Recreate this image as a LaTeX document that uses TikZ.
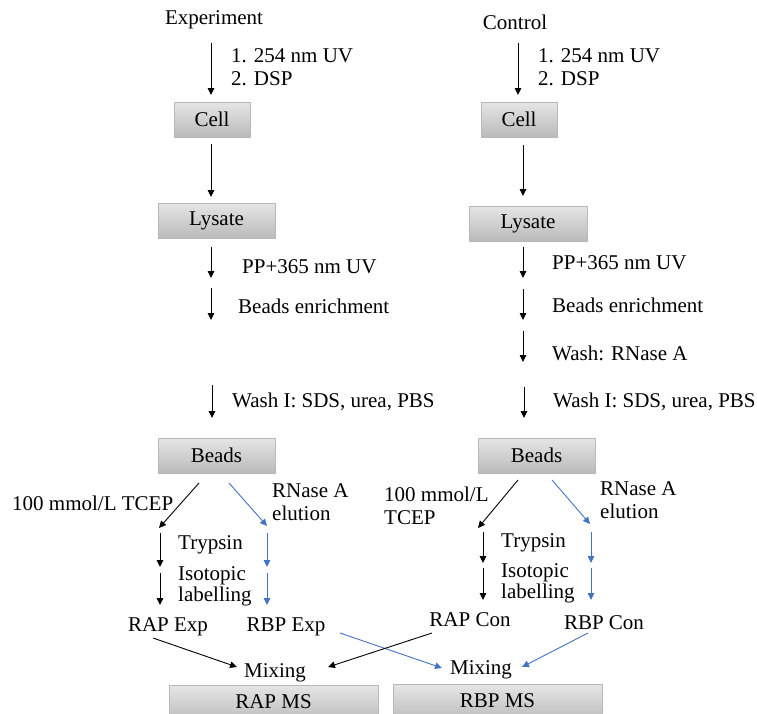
\documentclass[tikz,border=0pt]{standalone}
\usepackage{fontspec}
\setmainfont{Liberation Serif}
\usetikzlibrary{arrows.meta}
\definecolor{blueline}{HTML}{4472C4}
\tikzset{
  box/.style={draw=black!28, top color=black!10, bottom color=black!27, minimum height=35pt, inner sep=0pt},
  lbl/.style={inner sep=0pt, anchor=west, align=left},
  txt/.style={inner sep=0pt},
  arr/.style={-{Triangle[length=7pt,width=6.5pt]}, line width=0.9pt},
  barr/.style={arr, draw=blueline, color=blueline}
}
\begin{document}
\begin{tikzpicture}[x=1pt,y=-1pt,font=\fontsize{21}{23}\selectfont]
\useasboundingbox (0,0) rectangle (757,713);
% ---------- boxes ----------
\node[box, minimum width=76pt]  (cellE) at (212,119.5) {Cell};
\node[box, minimum width=117pt] (lysE)  at (216.5,220.5) {Lysate};
\node[box, minimum width=117pt] (beadE) at (216.5,455.5) {Beads};
\node[box, minimum width=209pt, minimum height=38pt, text depth=4pt] (msE) at (273.5,704) {RAP MS};
\node[box, minimum width=76pt]  (cellC) at (519,119.5) {Cell};
\node[box, minimum width=118pt] (lysC)  at (528,223.5) {Lysate};
\node[box, minimum width=117pt] (beadC) at (536.5,455.5) {Beads};
\node[box, minimum width=209pt, minimum height=38pt, text depth=4pt] (msC) at (497.5,703) {RBP MS};
% ---------- texts ----------
\node[txt] (expT) at (214,20) {Experiment};
\node[txt] (conT) at (515,22) {Control};
\node[lbl] (uvE) at (231,67) {1. 254 nm UV\\2. DSP};
\node[lbl] (uvC) at (538,67) {1. 254 nm UV\\2. DSP};
\node[lbl] (ppE) at (242,267) {PP+365 nm UV};
\node[lbl] (ppC) at (552,263) {PP+365 nm UV};
\node[lbl] (enE) at (238,306) {Beads enrichment};
\node[lbl] (enC) at (552,305) {Beads enrichment};
\node[lbl] (rnC) at (552,353) {Wash: RNase A};
\node[lbl] (wE) at (232,402) {Wash I: SDS, urea, PBS};
\node[lbl] (wC) at (553,402) {Wash I: SDS, urea, PBS};
\node[lbl] (tcE) at (12,503) {100 mmol/L TCEP};
\node[lbl] (tcC) at (384,506) {100 mmol/L\\TCEP};
\node[lbl] (elE) at (272,502.5) {RNase A\\elution};
\node[lbl] (elC) at (600,500) {RNase A\\elution};
\node[lbl] (trE) at (178,545) {Trypsin};
\node[lbl] (trC) at (501,543) {Trypsin};
\node[lbl, font=\fontsize{21}{21}\selectfont] (isE) at (178,586) {Isotopic\\labelling};
\node[lbl, font=\fontsize{21}{21}\selectfont] (isC) at (501,583) {Isotopic\\labelling};
\node[txt] (rapE) at (168,627) {RAP Exp};
\node[txt] (rbpE) at (286,627) {RBP Exp};
\node[txt] (rapC) at (470,620) {RAP Con};
\node[txt] (rbpC) at (604,623) {RBP Con};
\node[txt] (mixE) at (275,673) {Mixing};
\node[txt] (mixC) at (481,670) {Mixing};
% ---------- arrow end points ----------
\coordinate (a1s) at (211,43);  \coordinate (a1e) at (211,95);
\coordinate (a2s) at (211,144); \coordinate (a2e) at (211,197);
\coordinate (a3s) at (211,247); \coordinate (a3e) at (211,278);
\coordinate (a4s) at (211,288); \coordinate (a4e) at (211,320);
\coordinate (a5s) at (212,385); \coordinate (a5e) at (212,418);
\coordinate (a6s) at (199,483); \coordinate (a6e) at (159,528);
\coordinate (a7s) at (229,483); \coordinate (a7e) at (267,526);
\coordinate (a8s) at (160,533); \coordinate (a8e) at (160,567);
\coordinate (a9s) at (267,533); \coordinate (a9e) at (267,567);
\coordinate (a10s) at (160,573); \coordinate (a10e) at (160,605);
\coordinate (a11s) at (267,573); \coordinate (a11e) at (267,605);
\coordinate (a12s) at (153,638); \coordinate (a12e) at (237,667);
\coordinate (a13s) at (340,633); \coordinate (a13e) at (442,668);
\coordinate (b1s) at (518,43);  \coordinate (b1e) at (518,95);
\coordinate (b2s) at (523,145); \coordinate (b2e) at (523,196);
\coordinate (b3s) at (523,247); \coordinate (b3e) at (523,278);
\coordinate (b4s) at (523,289); \coordinate (b4e) at (523,320);
\coordinate (b5s) at (523,331); \coordinate (b5e) at (523,362);
\coordinate (b6s) at (524,387); \coordinate (b6e) at (524,418);
\coordinate (b7s) at (518,480); \coordinate (b7e) at (478,528);
\coordinate (b8s) at (552,480); \coordinate (b8e) at (590,524);
\coordinate (b9s) at (483,532); \coordinate (b9e) at (483,563);
\coordinate (b10s) at (591,532); \coordinate (b10e) at (591,563);
\coordinate (b11s) at (483,568); \coordinate (b11e) at (483,600);
\coordinate (b12s) at (591,568); \coordinate (b12e) at (591,600);
\coordinate (b13s) at (432,633); \coordinate (b13e) at (328,667);
\coordinate (b14s) at (588,633); \coordinate (b14e) at (522,667);
% ---------- arrows ----------
\foreach \i in {1,2,3,4,5,6,8,10,12}{\draw[arr] (a\i s) -- (a\i e);}
\foreach \i in {7,9,11,13}{\draw[barr] (a\i s) -- (a\i e);}
\foreach \i in {1,2,3,4,5,6,7,9,11,13}{\draw[arr] (b\i s) -- (b\i e);}
\foreach \i in {8,10,12,14}{\draw[barr] (b\i s) -- (b\i e);}
\end{tikzpicture}
\end{document}
